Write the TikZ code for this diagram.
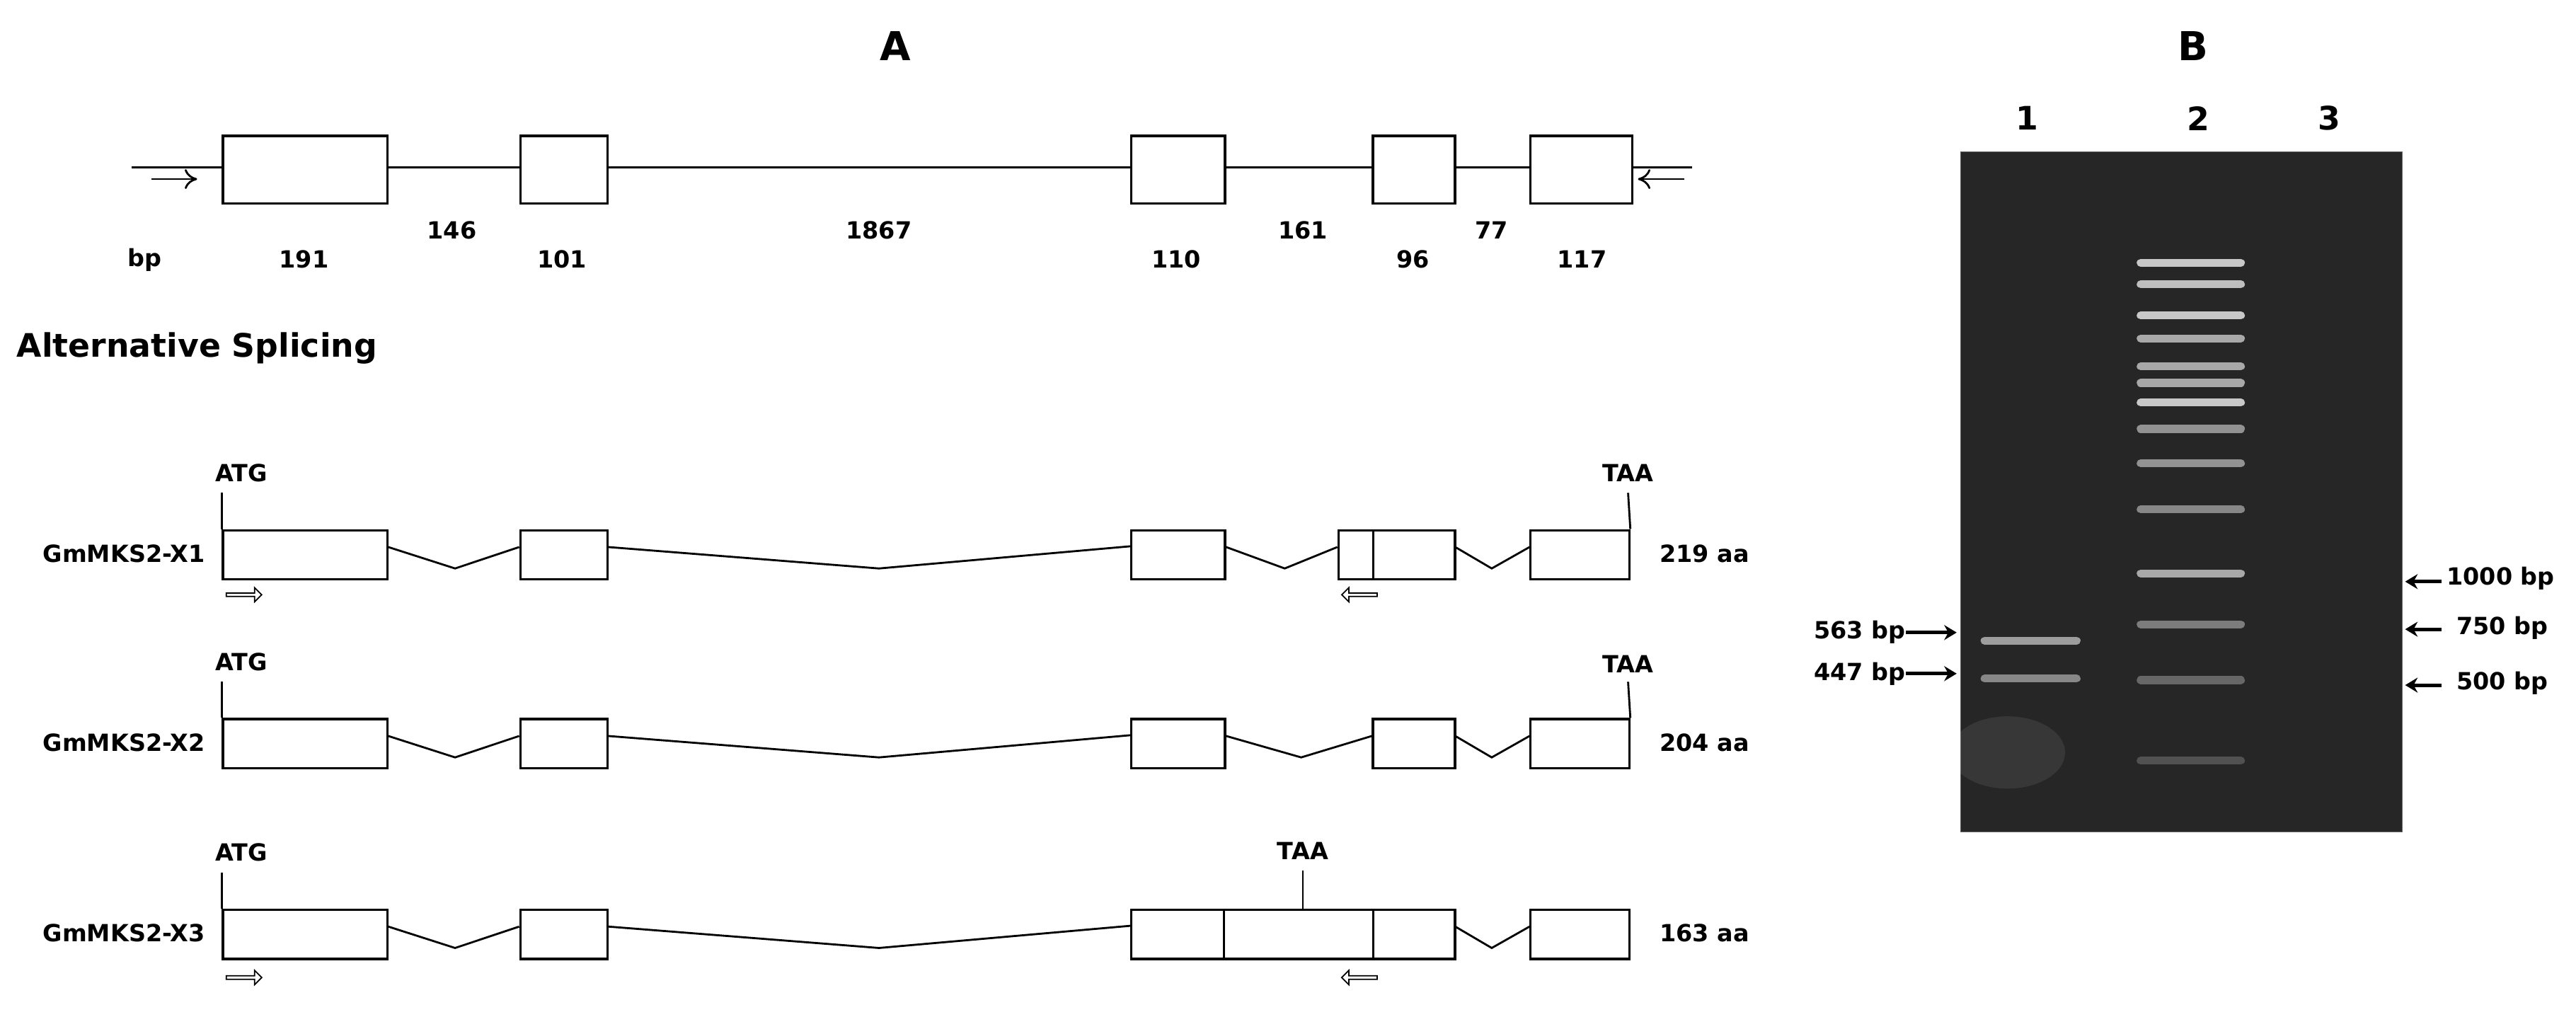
\documentclass[tikz,border=0pt]{standalone}
\usepackage{fontspec}
\setmainfont{DejaVu Sans}
\usetikzlibrary{calc,shapes.arrows,arrows.meta}
\begin{document}
\begin{tikzpicture}[x=0.023214cm,y=-0.023214cm,
  exon/.style={draw,fill=white,line width=0.9pt,inner sep=0pt,anchor=north west},
  lbl/.style={font=\bfseries\fontsize{9.5}{11}\selectfont,inner sep=0pt},
  ln/.style={line width=0.8pt},
  primR/.style={single arrow,draw,line width=0.5pt,minimum height=0.5cm,minimum width=0.2cm,single arrow head extend=0.06cm,inner sep=0.3pt},
  primL/.style={primR,shape border rotate=180},
  band/.style={line width=3.2pt,line cap=round},
  garr/.style={line width=1.4pt,-{Stealth[length=5pt,width=6pt]}}]
\useasboundingbox (0,0) rectangle (1568,618.6);
\newcommand\ex[5]{\node[exon,minimum width={(#3-#2)*0.023214cm},minimum height={#5*0.023214cm}] (#1) at (#2,#4) {};}
% titles
\node[font=\bfseries\fontsize{16}{18}\selectfont] (tA) at (545,28) {A};
\node[font=\bfseries\fontsize{16}{18}\selectfont] (tB) at (1335,28) {B};
% top gene
\coordinate (gL) at (80,102); \coordinate (gR) at (1030,102);
\draw[ln] (gL) -- (gR);
\ex{g1}{135}{235}{82}{41}\ex{g2}{316}{369}{82}{41}\ex{g3}{688}{745}{82}{41}\ex{g4}{835}{885}{82}{41}\ex{g5}{931}{993}{82}{41}
\coordinate (fa) at (92,109); \coordinate (fb) at (120,109);
\draw[ln,-{To[length=5pt,width=8pt]}] (fa) -- (fb);
\coordinate (ra) at (1025,109); \coordinate (rb) at (997,109);
\draw[ln,-{To[length=5pt,width=8pt]}] (ra) -- (rb);
\foreach \t/\x in {146/275,1867/535,161/793,77/908}{\node[lbl] (n\t) at (\x,140) {\t};}
\foreach \t/\x/\n in {bp/88/a,191/185/b,101/342/c,110/716/d,96/860/e,117/963/f}{\node[lbl] (m\n) at (\x,158) {\t};}
\node[font=\bfseries\fontsize{13}{15}\selectfont,anchor=west,inner sep=0pt] (alt) at (10,212) {Alternative Splicing};
% transcripts
\foreach \r/\yt/\nm/\aa in {a/322/GmMKS2-X1/219 aa,b/437/GmMKS2-X2/204 aa,c/553/GmMKS2-X3/163 aa}{
  \node[lbl,anchor=east] (nm\r) at (125,\yt+15) {\nm};
  \node[lbl,anchor=west] (aa\r) at (1010,\yt+15) {\aa};
  \ex{\r1}{135}{235}{\yt}{30}\ex{\r2}{316}{369}{\yt}{30}\ex{\r5}{931}{991}{\yt}{30}
  \coordinate (atg\r) at (135,\yt-22);
  \draw[ln] (atg\r) -- (\r1.north west);
  \node[lbl] (atgl\r) at (147,\yt-34) {ATG};
  \draw[ln] ($(\r1.north east)!0.35!(\r1.south east)$) -- (277,\yt+24) -- ($(\r2.north west)!0.35!(\r2.south west)$);
  \draw[ln] ($(\r2.north east)!0.35!(\r2.south east)$) -- (535,\yt+24) -- (688,\yt+10.5);
  \draw[ln] (885,\yt+10.5) -- (908,\yt+24) -- ($(\r5.north west)!0.35!(\r5.south west)$);
}
% X1
\ex{a3}{688}{745}{322}{30}\ex{a4}{814}{885}{322}{30}
\draw[ln] (836,322) -- (836,352);
\draw[ln] ($(a3.north east)!0.35!(a3.south east)$) -- (782,346) -- ($(a4.north west)!0.35!(a4.south west)$);
\coordinate (taaa) at (991,300); \draw[ln] (taaa) -- (a5.north east);
\node[lbl] (taala) at (991,288) {TAA};
\node[primR] (pa1) at (148,362) {};
\node[primL] (pa2) at (828,362) {};
% X2
\ex{b3}{688}{745}{437}{30}\ex{b4}{835}{885}{437}{30}
\draw[ln] ($(b3.north east)!0.35!(b3.south east)$) -- (792,461) -- ($(b4.north west)!0.35!(b4.south west)$);
\coordinate (taab) at (991,415); \draw[ln] (taab) -- (b5.north east);
\node[lbl] (taalb) at (991,404) {TAA};
% X3
\ex{c3}{688}{885}{553}{30}
\draw[ln] (745,553) -- (745,583); \draw[ln] (836,553) -- (836,583);
\coordinate (taac) at (793,530); \draw[ln] (taac) -- (793,553);
\node[lbl] (taalc) at (793,518) {TAA};
\node[primR] (pc1) at (148,595) {};
\node[primL] (pc2) at (828,595) {};
% gel
\node[draw=black!60,fill=black!85,minimum width={269*0.023214cm},minimum height={414*0.023214cm},anchor=north west,inner sep=0pt] (gel) at (1193,92) {};
\foreach \t/\x in {1/1234,2/1338,3/1418}{\node[font=\bfseries\fontsize{13}{15}\selectfont] (ln\t) at (\x,72) {\t};}
\foreach \y/\o in {160/0.75,173/0.7,192/0.75,206/0.6,223/0.6,233/0.6,245/0.75,261/0.5,282/0.5,310/0.45,349/0.6,380/0.4,414/0.3,463/0.2}{
  \draw[band,white,opacity=\o] (1303,\y) -- (1364,\y);}
\draw[band,white,opacity=0.55] (1208,390) -- (1264,390);
\draw[band,white,opacity=0.45] (1208,413) -- (1264,413);
\fill[white,opacity=0.08] (1222,458) ellipse (35 and 22);
% gel markers
\node[lbl,anchor=east] (b563) at (1160,385) {563 bp};
\node[lbl,anchor=east] (b447) at (1160,410) {447 bp};
\coordinate (k1) at (1191,385); \coordinate (k2) at (1191,410);
\draw[garr] (b563) -- (k1); \draw[garr] (b447) -- (k2);
\node[lbl,anchor=west] (m1000) at (1489,352) {1000 bp};
\node[lbl,anchor=west] (m750) at (1495,382) {750 bp};
\node[lbl,anchor=west] (m500) at (1495,416) {500 bp};
\coordinate (q1) at (1464,354); \coordinate (q2) at (1464,383); \coordinate (q3) at (1464,417);
\draw[garr] (1486,354) -- (q1); \draw[garr] (1486,383) -- (q2); \draw[garr] (1486,417) -- (q3);
\end{tikzpicture}
\end{document}
